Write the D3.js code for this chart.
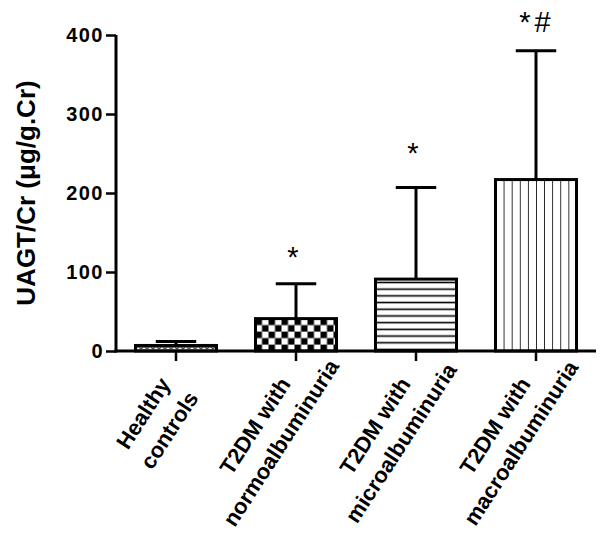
<!DOCTYPE html>
<html><head><meta charset="utf-8">
<script src="https://cdn.jsdelivr.net/npm/d3@7"></script>
<style>
html,body{margin:0;padding:0;background:#fff;}
svg{display:block;font-family:"Liberation Sans",Arial,sans-serif;}
</style></head>
<body>
<svg id="chart" width="600" height="551"></svg>
<script>
const categories = [["Healthy","controls"],["T2DM with","normoalbuminuria"],["T2DM with","microalbuminuria"],["T2DM with","macroalbuminuria"]];
const means = [7, 41, 91, 217];
const sds = [5, 44, 116, 163];
const sigLabels = ["", "*", "*", "*#"];
const sigValues = [null, 106, 238, 404];
const yTicks = [0, 100, 200, 300, 400];
const patterns = ["wave", "checker", "hlines", "vlines"];
const yTitle = "UAGT/Cr (\u03bcg/g.Cr)";

(function(){
const svg = d3.select("#chart");
const mLeft = 116, mRight = 596, mTop = 35, mBottom = 351;

const x = d3.scaleBand().domain(d3.range(categories.length)).range([mLeft, mRight]).paddingInner(0.325).paddingOuter(0.1625);
const y = d3.scaleLinear().domain([0, 400]).range([mBottom, mTop]);

// patterns
const defs = svg.append("defs");
const pw = defs.append("pattern").attr("id","wave").attr("patternUnits","userSpaceOnUse").attr("width",6).attr("height",4).attr("y",y(means[0]));
pw.append("path").attr("d","M0,1 L3,3 L6,1").attr("fill","none").attr("stroke","#000").attr("stroke-width",1.3);
const pc = defs.append("pattern").attr("id","checker").attr("patternUnits","userSpaceOnUse").attr("width",13).attr("height",13).attr("x",x(1)).attr("y",y(means[1]));
pc.append("rect").attr("x",0).attr("y",0).attr("width",6.5).attr("height",6.5).attr("fill","#000");
pc.append("rect").attr("x",6.5).attr("y",6.5).attr("width",6.5).attr("height",6.5).attr("fill","#000");
const ph = defs.append("pattern").attr("id","hlines").attr("patternUnits","userSpaceOnUse").attr("width",10).attr("height",6.7).attr("y",y(means[2]));
ph.append("line").attr("x1",0).attr("x2",10).attr("y1",3.35).attr("y2",3.35).attr("stroke","#000").attr("stroke-width",1.6);
const pv = defs.append("pattern").attr("id","vlines").attr("patternUnits","userSpaceOnUse").attr("width",8.1).attr("height",10).attr("x",x(3));
pv.append("line").attr("x1",0).attr("x2",0).attr("y1",0).attr("y2",10).attr("stroke","#000").attr("stroke-width",1.6);

// error bars
const cx = i => x(i) + x.bandwidth()/2;
const capHalf = x.bandwidth()*0.25;
const eb = svg.append("g").attr("stroke","#000").attr("stroke-width",3).attr("fill","none");
means.forEach((m,i)=>{
  eb.append("line").attr("x1",cx(i)).attr("x2",cx(i)).attr("y1",y(m)).attr("y2",y(m+sds[i]));
  eb.append("line").attr("x1",cx(i)-capHalf).attr("x2",cx(i)+capHalf).attr("y1",y(m+sds[i])).attr("y2",y(m+sds[i]));
});

// bars
svg.append("g").selectAll("rect").data(means).join("rect")
  .attr("x",(d,i)=>x(i)).attr("y",d=>y(d)).attr("width",x.bandwidth()).attr("height",d=>y(0)-y(d))
  .attr("fill",(d,i)=>"url(#"+patterns[i]+")").attr("stroke","#000").attr("stroke-width",3);

// y axis
const ya = svg.append("g").attr("transform",`translate(${mLeft},0)`)
  .call(d3.axisLeft(y).tickValues(yTicks).tickSize(10).tickPadding(2).tickSizeOuter(0));
ya.select(".domain").attr("stroke-width",3).attr("d",`M0,${mBottom+1.5}V${mTop}`);
ya.selectAll(".tick line").attr("stroke-width",2.5);
ya.selectAll(".tick text").attr("font-size",20).attr("font-weight","bold").attr("fill","#000")
  .attr("font-family","'Liberation Sans',Arial,sans-serif").style("letter-spacing","1.5px");

// x axis
const xa = svg.append("g").attr("transform",`translate(0,${mBottom})`);
xa.append("line").attr("x1",mLeft-1.5).attr("x2",mRight).attr("y1",0).attr("y2",0).attr("stroke","#000").attr("stroke-width",3);
xa.selectAll("line.tk").data(categories).join("line").attr("class","tk")
  .attr("x1",(d,i)=>cx(i)).attr("x2",(d,i)=>cx(i)).attr("y1",0).attr("y2",10).attr("stroke","#000").attr("stroke-width",2.5);

// category labels
const ang = 57, rad = ang*Math.PI/180;
const u = [Math.cos(rad), -Math.sin(rad)], n = [Math.sin(rad), Math.cos(rad)];
const lineGap = 31;
categories.forEach((lines,i)=>{
  const endX = cx(i) - 11, endY = mBottom + 29;
  const tmp = svg.append("text").attr("font-size",22).attr("font-weight","bold").text(lines[0]);
  const len1 = tmp.node().getComputedTextLength(); tmp.remove();
  const c1 = [endX - len1/2*u[0], endY - len1/2*u[1]];
  lines.forEach((t,j)=>{
    const px = c1[0] + j*lineGap*n[0], py = c1[1] + j*lineGap*n[1];
    svg.append("text").attr("font-size",22).attr("font-weight","bold").attr("fill","#000")
      .attr("text-anchor","middle").attr("dominant-baseline","central")
      .attr("transform",`translate(${px},${py}) rotate(${-ang})`).text(t);
  });
});

// y title
svg.append("text").attr("font-size",26).attr("font-weight","bold").attr("fill","#000")
  .attr("text-anchor","middle").attr("transform",`translate(35,${(mTop+mBottom)/2})  rotate(-90)`).text(yTitle);

// significance marks
sigLabels.forEach((s,i)=>{
  if(!s) return;
  svg.append("text").attr("x",cx(i)-(s.length===1?3:-1)).attr("y",y(sigValues[i]))
    .attr("text-anchor","middle").attr("font-size",29).attr("fill","#000")
    .style("letter-spacing", s.length>1 ? "4px" : "0px").text(s);
});
})();
</script>
</body></html>
